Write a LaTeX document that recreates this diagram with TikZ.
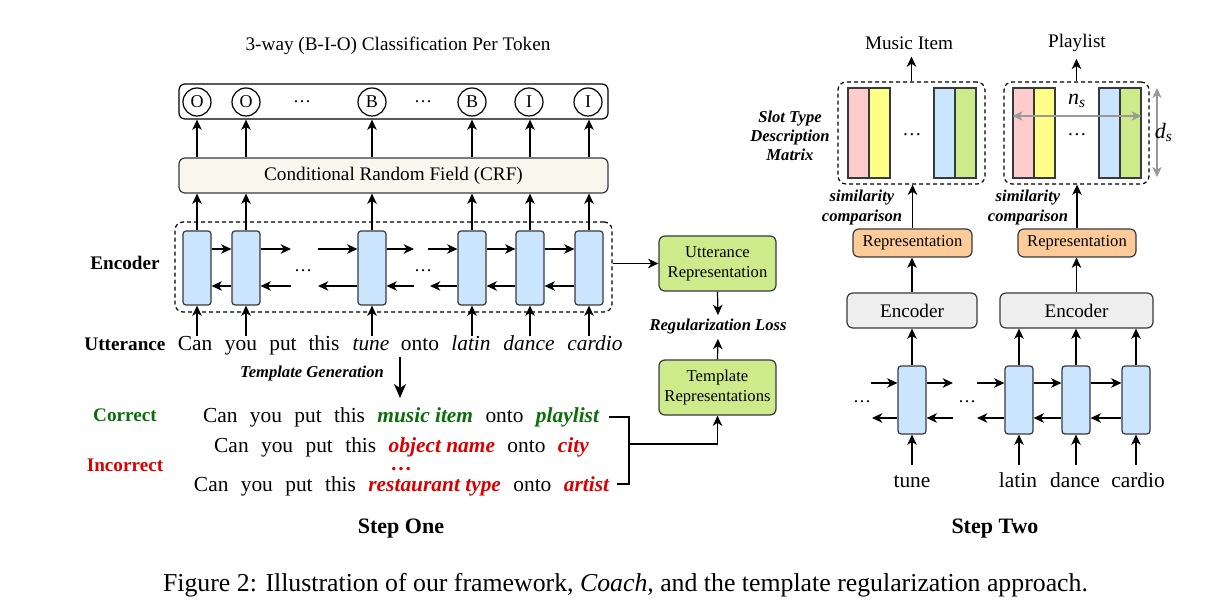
\documentclass[tikz,border=0pt]{standalone}
\usepackage{fontspec}
\setmainfont{Liberation Serif}
\usetikzlibrary{arrows.meta,positioning}
\definecolor{cellblue}{HTML}{CCE5FF}
\definecolor{crfbg}{HTML}{F9F7ED}
\definecolor{lime}{HTML}{CDEB8B}
\definecolor{peach}{HTML}{FFCC99}
\definecolor{greybox}{HTML}{EEEEEE}
\definecolor{pinkbar}{HTML}{FFCCCC}
\definecolor{yellowbar}{HTML}{FFFF88}
\definecolor{edge}{HTML}{36393D}
\definecolor{dimgrey}{HTML}{999999}
\definecolor{okgreen}{HTML}{0A6E0A}
\definecolor{badred}{HTML}{D90000}
\newcommand{\fsz}[1]{\fontsize{#1}{1.2\dimexpr#1pt\relax}\selectfont}
\newcommand{\widesp}{\spaceskip=6.2pt\relax}
\newcommand{\slotname}[2]{{\spaceskip=0pt\relax\color{#1}\bfseries\itshape #2}}

\begin{document}
\begin{tikzpicture}[x=0.5pt, y=-0.5pt,
  >={Stealth[length=5.2pt,width=4.8pt,inset=1.6pt]},
  arr/.style={->, line width=0.6pt},
  dim/.style={{Stealth[length=5pt,width=4.6pt,inset=1.4pt]}-{Stealth[length=5pt,width=4.6pt,inset=1.4pt]},
    draw=dimgrey, line width=0.8pt},
  cell/.style={draw=edge, fill=cellblue, rounded corners=1.5pt, line width=0.6pt,
    minimum width=14pt, minimum height=37pt, inner sep=0pt},
  cellr/.style={cell, minimum height=34pt},
  bar/.style={draw=edge, line width=0.6pt, minimum width=10.5pt,
    minimum height=45pt, inner sep=0pt},
  box/.style={draw=edge, rounded corners=3pt, line width=0.6pt, inner sep=0pt,
    align=center},
  dashbox/.style={draw, dashed, dash pattern=on 2pt off 1.5pt, rounded corners=4pt,
    line width=0.6pt, inner sep=0pt},
  circ/.style={draw, circle, minimum size=14pt, inner sep=0pt, line width=0.6pt,
    font=\fsz{9}},
  word/.style={font=\fsz{10.7}, inner sep=0pt, anchor=base, text height=7.2pt},
  tline/.style={font=\fsz{10.7}, inner sep=0pt, anchor=base},
  lbl/.style={font=\fsz{9.6}\bfseries, inner sep=0pt, anchor=base},
  note/.style={font=\fontsize{8.3}{10}\selectfont\bfseries\itshape, inner sep=0pt,
    align=center}]
\useasboundingbox (0,0) rectangle (1217,613);

% ---------------- step one ----------------
\node[font=\fsz{9.6}] (title) at (398,46) {3-way (B-I-O) Classification Per Token};
\node[box, draw=black, minimum width=214.5pt, minimum height=17.5pt] (out) at (393.5,101.5) {};
\node[box, fill=crfbg, minimum width=214.5pt, minimum height=17.5pt, font=\fsz{9.6}]
  (crf) at (393.5,175.5) {Conditional Random Field (CRF)};
\foreach \n/\x/\t in {o1/197/O, o2/246/O, o3/372/B, o4/472/B, o5/529/I, o6/588/I}
  \node[circ] (\n) at (\x,102) {\t};
\node[font=\fsz{9}] (odots1) at (302,102) {\dots};
\node[font=\fsz{9}] (odots2) at (423,102) {\dots};

\node[dashbox, minimum width=218.5pt, minimum height=45pt] (enc) at (393.5,267) {};
\foreach \n/\x in {e1/197, e2/246, e3/372, e4/472, e5/530, e6/589}
  \node[cell] (\n) at (\x,268) {};
\node[font=\fsz{9}] (edots1) at (303,271) {\dots};
\node[font=\fsz{9}] (edots2) at (423,271) {\dots};

\coordinate (f1) at (291,249); \coordinate (f2) at (317.5,249);
\coordinate (f3) at (414,249); \coordinate (f4) at (428,249);
\coordinate (g1) at (291,286); \coordinate (g2) at (318,286);
\coordinate (g3) at (414,286); \coordinate (g4) at (430,286);
\foreach \a/\b in {e1/e2, e4/e5, e5/e6} {
  \draw[arr] ([yshift=9.5pt]\a.east) -- ([yshift=9.5pt]\b.west);
  \draw[arr] ([yshift=-9pt]\b.west) -- ([yshift=-9pt]\a.east);
}
\draw[arr] ([yshift=9.5pt]e2.east) -- (f1);
\draw[arr] (f2) -- ([yshift=9.5pt]e3.west);
\draw[arr] ([yshift=9.5pt]e3.east) -- (f3);
\draw[arr] (f4) -- ([yshift=9.5pt]e4.west);
\draw[arr] (g1) -- ([yshift=-9pt]e2.east);
\draw[arr] ([yshift=-9pt]e3.west) -- (g2);
\draw[arr] (g3) -- ([yshift=-9pt]e3.east);
\draw[arr] ([yshift=-9pt]e4.west) -- (g4);

\foreach \c in {e1,e2,e3,e4,e5,e6} {
  \draw[arr] (\c.north) -- (\c.north |- crf.south);
  \draw[arr] (crf.north -| \c) -- (out.south -| \c);
}

\node[lbl] (enclbl) at (125,270) {Encoder};
\node[lbl] (uttlbl) at (125,351) {Utterance};
\foreach \n/\x/\t in {w1/195/Can, w2/241/you, w3/283/put, w4/324/this,
    w5/371/\textit{tune}, w6/420/onto, w7/471/\textit{latin},
    w8/529/\textit{dance}, w9/595/\textit{cardio}}
  \node[word] (\n) at (\x,351) {\t};
\foreach \w/\c in {w1/e1, w2/e2, w5/e3, w7/e4, w8/e5, w9/e6}
  \draw[arr] (\w.north -| \c) -- (\c.south);

\coordinate (tg1) at (400,357); \coordinate (tg2) at (400,398);
\draw[-{Stealth[length=7pt,width=6pt,inset=2pt]}, line width=1pt] (tg1) -- (tg2);
\node[note] (tgen) at (312,374) {Template Generation};

\node[lbl, text=okgreen] (corr) at (125,422) {Correct};
\node[lbl, text=badred] (incorr) at (125,472) {Incorrect};
\node[tline] (t1) at (401,423)
  {\widesp Can you put this \slotname{okgreen}{music item} onto \slotname{okgreen}{playlist}};
\node[tline] (t2) at (401.5,453)
  {\widesp Can you put this \slotname{badred}{object name} onto \slotname{badred}{city}};
\node[font=\fsz{10.7}\bfseries, text=badred, inner sep=0pt] (tdots) at (401,469) {\dots};
\node[tline] (t3) at (401.5,492)
  {\widesp Can you put this \slotname{badred}{restaurant type} onto \slotname{badred}{artist}};

\node[box, fill=lime, minimum width=58.5pt, minimum height=27.5pt, font=\fsz{8.3}]
  (ur) at (717.5,263.5) {Utterance\\Representation};
\node[box, fill=lime, minimum width=58.5pt, minimum height=27.5pt, font=\fsz{8.3}]
  (tr) at (717.5,387.5) {Template\\Representations};
\node[note] (reg) at (718,327) {Regularization Loss};
\draw[arr] (enc.east |- ur.west) -- (ur.west);
\draw[arr] (ur.south) -- ([yshift=2pt]reg.north);
\draw[arr] (tr.north) -- ([yshift=-2pt]reg.south);

\coordinate (bt) at (609,417); \coordinate (bm) at (629,444);
\coordinate (bb) at (617,484);
\draw[line width=0.6pt] (bt) -| (bm) |- (bb);
\draw[arr] (bm) -| (tr.south);

\node[font=\fsz{11}\bfseries] (step1) at (401,529) {Step One};

% ---------------- step two ----------------
\node[font=\fsz{9.6}] (mi) at (909,43) {Music Item};
\node[font=\fsz{9.6}] (pl) at (1077,43) {Playlist};
\node[dashbox, minimum width=73.5pt, minimum height=51pt] (m1) at (911.5,133) {};
\node[dashbox, minimum width=72.5pt, minimum height=51pt] (m2) at (1076.5,133) {};
\node[bar, fill=pinkbar] (p1) at (858.5,133) {};
\node[bar, fill=yellowbar] (y1) at (879.5,133) {};
\node[bar, fill=cellblue] (b1) at (944.5,133) {};
\node[bar, fill=lime] (g1) at (965.5,133) {};
\node[bar, fill=pinkbar] (p2) at (1023.5,133) {};
\node[bar, fill=yellowbar] (y2) at (1044.5,133) {};
\node[bar, fill=cellblue] (b2) at (1109.5,133) {};
\node[bar, fill=lime] (g2) at (1130.5,133) {};
\node[font=\fsz{9.6}] (mdots1) at (912,135) {\dots};
\node[font=\fsz{9.6}] (mdots2) at (1077,135) {\dots};
\draw[dim] ([yshift=8.5pt]p2.west) -- ([yshift=8.5pt]g2.east)
  node[midway, above=0.5pt, font=\fsz{11}, text=black] {\textit{n}\textsubscript{\textit{s}}};
\coordinate (ds1) at (1157,88); \coordinate (ds2) at (1157,177);
\draw[dim] (ds1) -- (ds2)
  node[midway, anchor=west, inner sep=0pt, xshift=-1.5pt, font=\fsz{11}, text=black]
  {\textit{d}\textsubscript{\textit{s}}};
\draw[arr] (m1.north) -- (m1.north |- mi.south);
\draw[arr] (m2.north) -- (m2.north |- pl.south);

\node[note, font=\fontsize{8.3}{9.5}\selectfont\bfseries\itshape] (stdm) at (790,136)
  {Slot Type\\Description\\Matrix};
\node[note] (sim1) at (862,208) {similarity\\comparison};
\node[note] (sim2) at (1028,208) {similarity\\comparison};

\node[box, fill=peach, minimum width=59.5pt, minimum height=14pt, font=\fsz{8.3}]
  (rep1) at (912.5,243) {Representation};
\node[box, fill=peach, minimum width=59pt, minimum height=14pt, font=\fsz{8.3}]
  (rep2) at (1077,243) {Representation};
\node[box, fill=greybox, minimum width=65pt, minimum height=17.5pt, font=\fsz{9.6}]
  (enc1) at (912,310.5) {Encoder};
\node[box, fill=greybox, minimum width=76.5pt, minimum height=17.5pt, font=\fsz{9.6}]
  (enc2) at (1076.5,310.5) {Encoder};
\draw[arr] (rep1.north) -- (rep1.north |- m1.south);
\draw[arr] (rep2.north) -- (rep2.north |- m2.south);
\draw[arr] (enc1.north) -- (enc1.north |- rep1.south);
\draw[arr] (enc2.north) -- (enc2.north |- rep2.south);

\foreach \n/\x in {r1/912, r2/1019, r3/1076, r4/1136}
  \node[cellr] (\n) at (\x,400) {};
\node[font=\fsz{9}] (rdots1) at (862,402) {\dots};
\node[font=\fsz{9}] (rdots2) at (967,402) {\dots};
\coordinate (a1) at (871,383); \coordinate (a2) at (953,383);
\coordinate (a3) at (953,418); \coordinate (a4) at (872,418);
\coordinate (a5) at (977,383); \coordinate (a6) at (977,418);
\draw[arr] (a1) -- ([yshift=8.5pt]r1.west);
\draw[arr] ([yshift=8.5pt]r1.east) -- (a2);
\draw[arr] (a3) -- ([yshift=-9pt]r1.east);
\draw[arr] ([yshift=-9pt]r1.west) -- (a4);
\draw[arr] (a5) -- ([yshift=8.5pt]r2.west);
\draw[arr] ([yshift=-9pt]r2.west) -- (a6);
\foreach \a/\b in {r2/r3, r3/r4} {
  \draw[arr] ([yshift=8.5pt]\a.east) -- ([yshift=8.5pt]\b.west);
  \draw[arr] ([yshift=-9pt]\b.west) -- ([yshift=-9pt]\a.east);
}
\draw[arr] (r1.north) -- (r1.north |- enc1.south);
\foreach \r in {r2,r3,r4}
  \draw[arr] (\r.north) -- (\r.north |- enc2.south);

\foreach \n/\x/\t in {v1/912/tune, v2/1018/latin, v3/1075/dance, v4/1138/cardio}
  \node[word] (\n) at (\x,488) {\t};
\foreach \v/\r in {v1/r1, v2/r2, v3/r3, v4/r4}
  \draw[arr, shorten <=4pt] (\v.north -| \r) -- (\r.south);

\node[font=\fsz{11}\bfseries] (step2) at (995,529) {Step Two};

% ---------------- caption ----------------
\node[font=\fsz{12.9}, inner sep=0pt, anchor=base] (cap) at (625.5,592)
  {Figure 2: Illustration of our framework, \textit{Coach}, and the template regularization approach.};
\end{tikzpicture}
\end{document}
